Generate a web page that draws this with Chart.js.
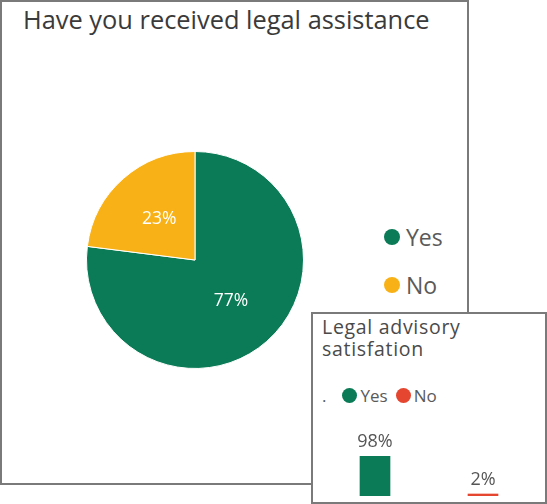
<!DOCTYPE html>
<html>
<head>
<meta charset="utf-8">
<script src="https://cdn.jsdelivr.net/npm/chart.js@4/dist/chart.umd.min.js"></script>
<style>
  body { margin: 0; width: 547px; height: 504px; background: #fff; position: relative; overflow: hidden; font-family: "Open Sans", Roboto, sans-serif; }
  .box { position: absolute; border: 2px solid #7a7a7a; background: #fff; box-sizing: border-box; }
  #mainBox { left: 0; top: 0; width: 469px; height: 485px; }
  #insetBox { left: 311px; top: 312px; width: 236px; height: 192px; z-index: 2; }
  #mainTitle { position: absolute; left: 23px; top: 2px; font-size: 25.4px; color: #3a3a3a; white-space: nowrap; }
  #pieCanvas { position: absolute; left: 80px; top: 145px; }
  .legend { position: absolute; color: #5a5a5a; }
  .legend .item { display: flex; align-items: center; white-space: nowrap; }
  .legend .dot { border-radius: 50%; display: inline-block; }
  #pieLegend { left: 384px; top: 222px; font-size: 23px; }
  #pieLegend .item { height: 30px; margin-bottom: 18px; }
  #pieLegend .dot { width: 16px; height: 16px; margin-right: 6px; }
  #insetTitle { position: absolute; left: 322px; top: 316px; width: 215px; font-size: 19.5px; letter-spacing: 0.7px; line-height: 22px; color: #4a4a4a; z-index: 3; }
  #barLegend { left: 322px; top: 384px; font-size: 17px; display: flex; z-index: 3; }
  #barLegend .item { margin-right: 8px; }
  #barLegend .dot { width: 15px; height: 15px; margin-right: 3px; }
  #barLegend .lead { margin-right: 16px; }
  #barCanvas { position: absolute; left: 314px; top: 425px; z-index: 3; }
</style>
</head>
<body>
<div class="box" id="mainBox"></div>
<div id="mainTitle">Have you received legal assistance</div>
<canvas id="pieCanvas" width="230" height="230"></canvas>
<div class="legend" id="pieLegend"></div>

<div class="box" id="insetBox"></div>
<div id="insetTitle">Legal advisory satisfation</div>
<div class="legend" id="barLegend"><span class="lead">.</span></div>
<canvas id="barCanvas" width="229" height="75"></canvas>

<script>
// Have you received legal assistance
const pieLabels = ['Yes', 'No'];
const pieValues = [77, 23];
const pieColors = ['#0a7b56', '#f8b218'];

// Legal advisory satisfation
const barLabels = ['Yes', 'No'];
const barValues = [98, 2];
const barColors = ['#0a7b56', '#e4462f'];

const buildLegend = (el, labels, colors) => {
    labels.forEach((label, i) => {
        const item = document.createElement('div');
        item.className = 'item';
        item.innerHTML = `<span class="dot" style="background:${colors[i]}"></span>${label}`;
        el.appendChild(item);
    });
};
buildLegend(document.getElementById('pieLegend'), pieLabels, pieColors);
buildLegend(document.getElementById('barLegend'), barLabels, barColors);

// writes "NN%" on every element of the first dataset
const valueLabels = {
    id: 'valueLabels',
    afterDatasetsDraw(chart, args, opts) {
        const ctx = chart.ctx;
        const meta = chart.getDatasetMeta(0);
        const values = chart.data.datasets[0].data;
        ctx.save();
        ctx.font = opts.font;
        ctx.fillStyle = opts.color;
        ctx.textAlign = 'center';
        ctx.textBaseline = opts.baseline;
        meta.data.forEach((el, i) => {
            const pos = opts.above ? { x: el.x, y: el.y - opts.offset } : el.tooltipPosition();
            ctx.fillText(values[i] + '%', pos.x, pos.y);
        });
        ctx.restore();
    }
};

new Chart(document.getElementById('pieCanvas'), {
    type: 'pie',
    data: {
        labels: pieLabels,
        datasets: [{ data: pieValues, backgroundColor: pieColors, borderColor: '#ffffff', borderWidth: 1 }]
    },
    options: {
        responsive: false,
        animation: false,
        layout: { padding: 6 },
        plugins: {
            legend: { display: false },
            tooltip: { enabled: false },
            valueLabels: { font: '17.5px "Open Sans"', color: '#ffffff', baseline: 'middle' }
        }
    },
    plugins: [valueLabels]
});

new Chart(document.getElementById('barCanvas'), {
    type: 'bar',
    data: {
        labels: barLabels,
        datasets: [{ data: barValues, backgroundColor: barColors, barThickness: 30, minBarLength: 2 }]
    },
    options: {
        responsive: false,
        animation: false,
        layout: { padding: { left: 7, right: 6, top: 31, bottom: 4 } },
        scales: {
            x: { display: false },
            y: { display: false, min: 0, max: 98 }
        },
        plugins: {
            legend: { display: false },
            tooltip: { enabled: false },
            valueLabels: { font: '18px "Open Sans"', color: '#555555', baseline: 'alphabetic', above: true, offset: 9 }
        }
    },
    plugins: [valueLabels]
});
</script>
</body>
</html>
